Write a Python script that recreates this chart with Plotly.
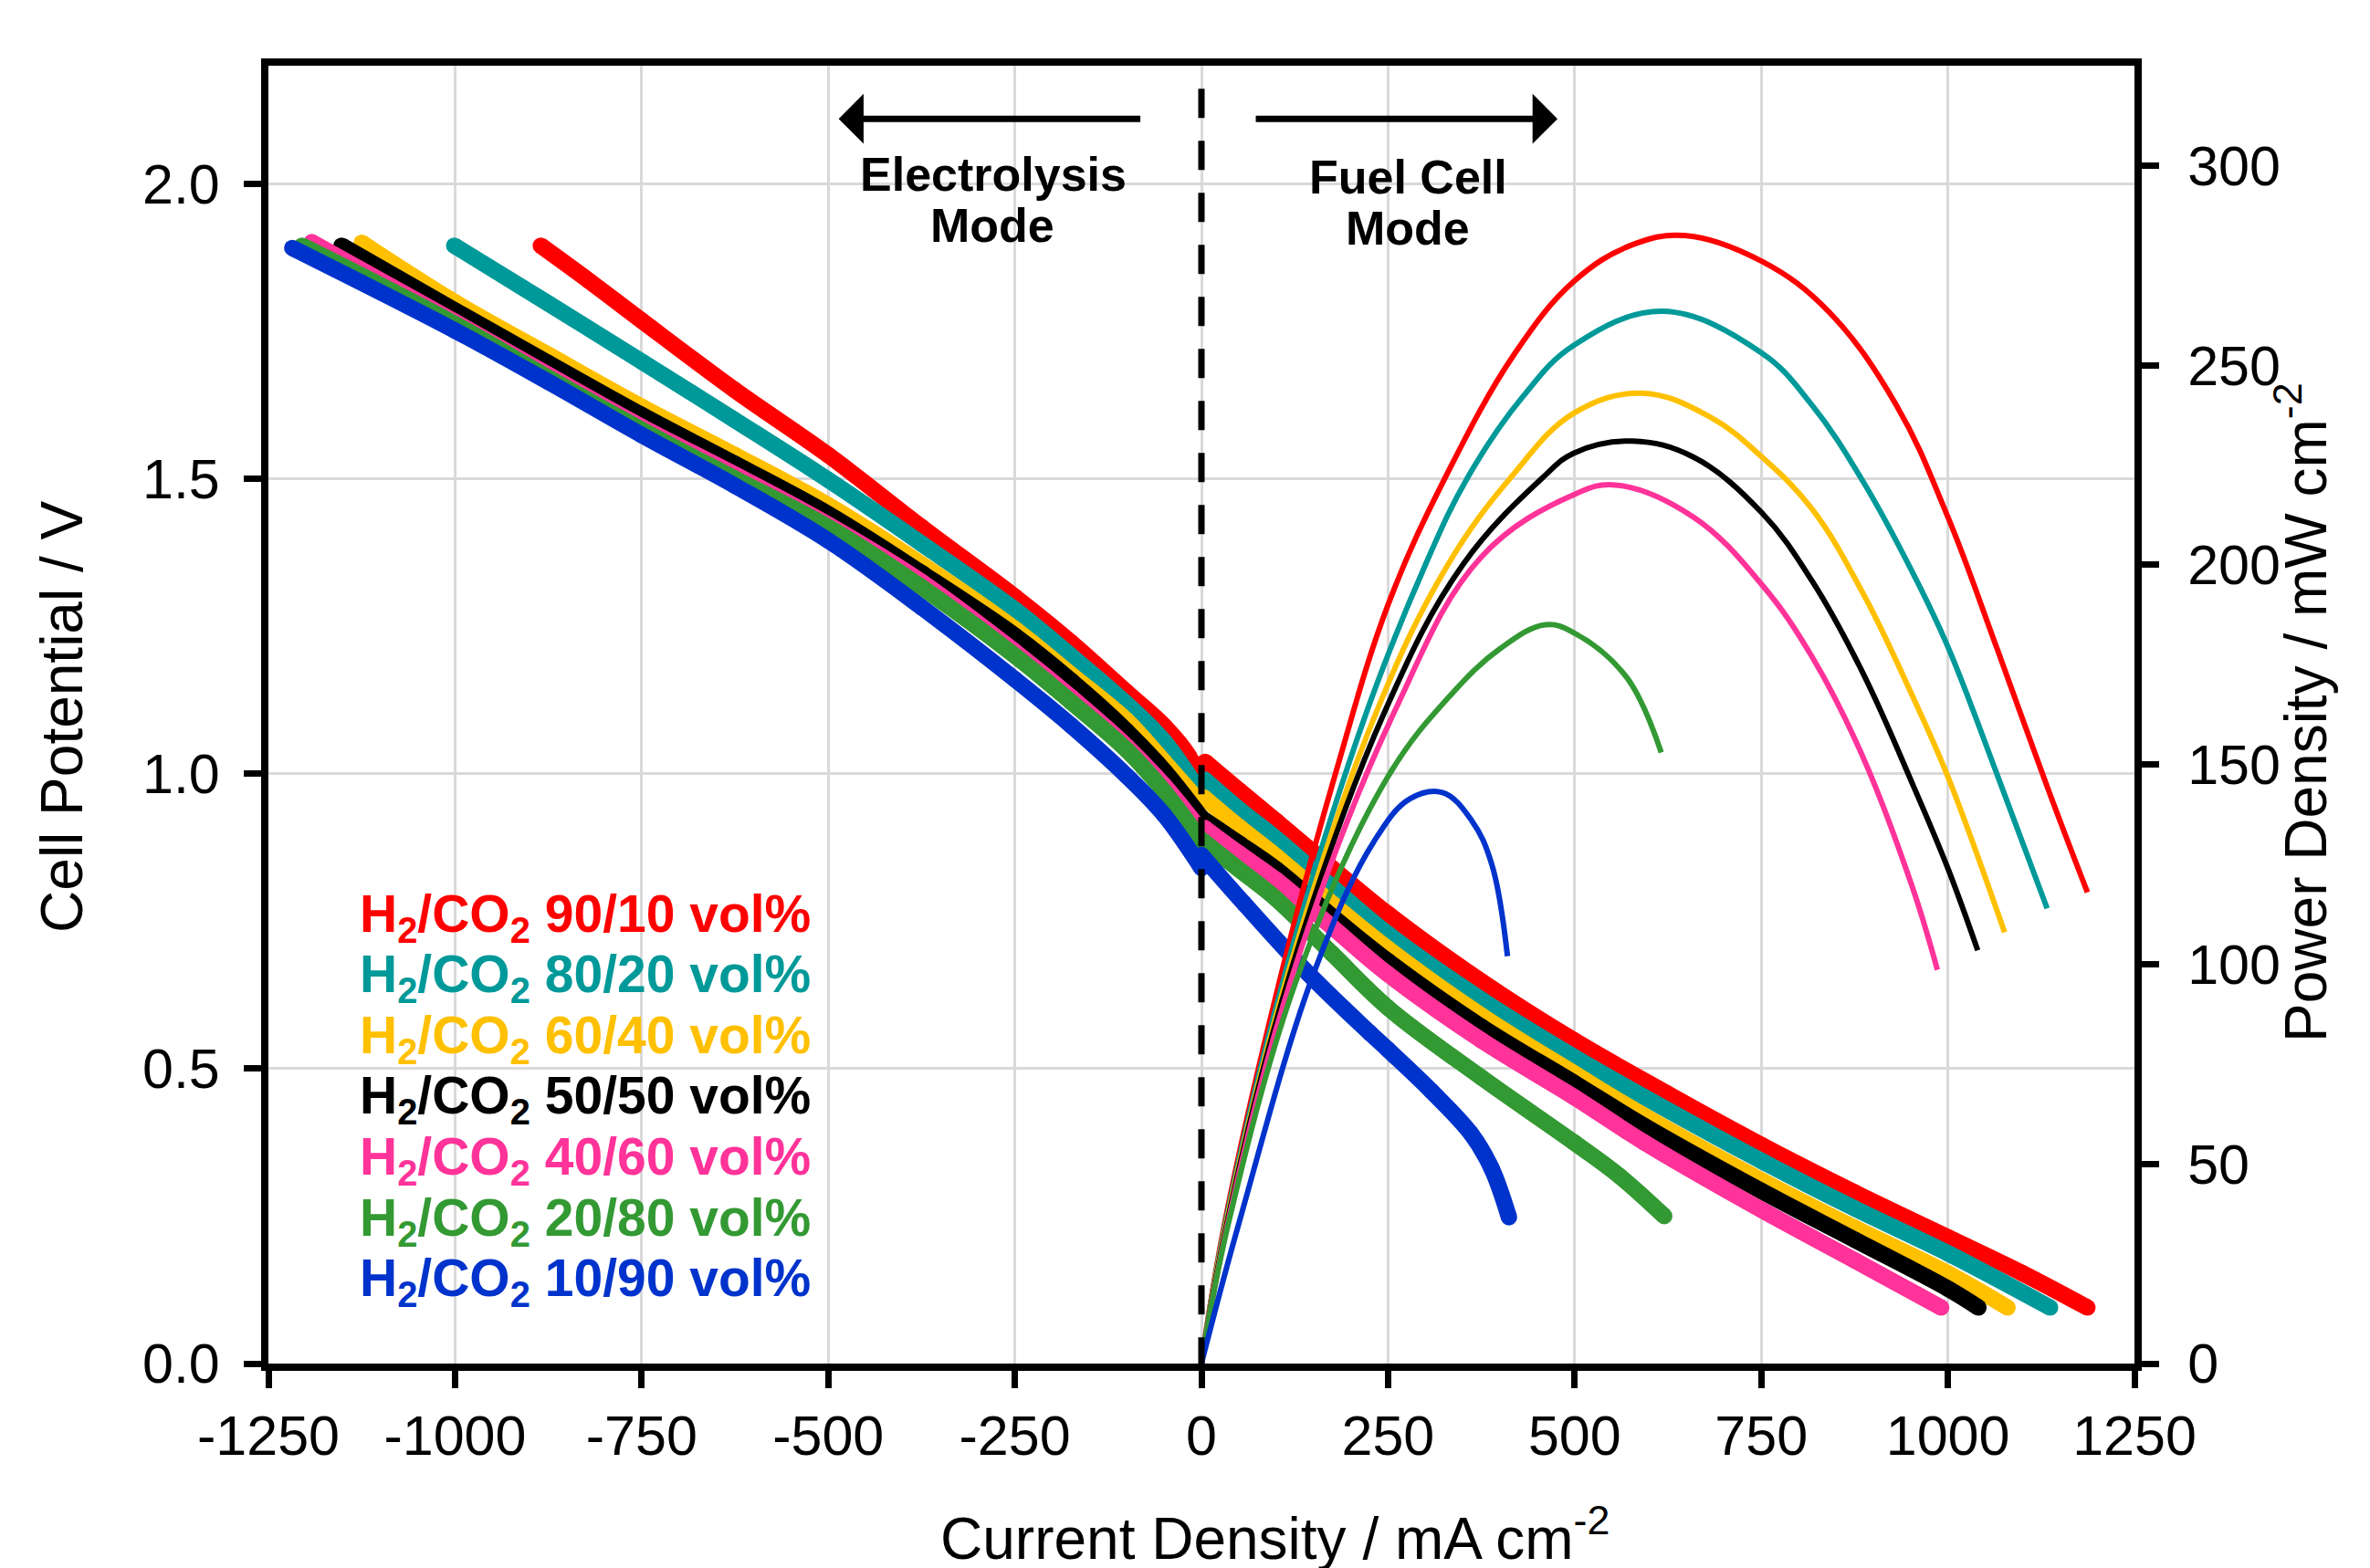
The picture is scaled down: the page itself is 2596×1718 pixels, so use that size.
import plotly.graph_objects as go

# ---------------- data ----------------
# current density in mA cm-2, cell potential in V, power density in mW cm-2
labels = ["90/10", "80/20", "60/40", "50/50", "40/60", "20/80", "10/90"]
colors = ["#FF0000", "#009999", "#FFC000", "#000000", "#FF3399", "#339933", "#0033CC"]

# electrolysis branch (negative current)
red_el_i = [-885, -820, -750, -626, -500, -375, -250, -175, -100, -50, -17, -3]
red_el_v = [1.895, 1.835, 1.768, 1.651, 1.54, 1.418, 1.30, 1.223, 1.138, 1.081, 1.03, 0.99]
teal_el_i = [-1001, -875, -748, -626, -500, -375, -250, -175, -100, -50, -3]
teal_el_v = [1.895, 1.797, 1.697, 1.60, 1.498, 1.39, 1.278, 1.20, 1.118, 1.055, 0.97]
yellow_el_i = [-1125, -1000, -875, -750, -625, -500, -375, -250, -175, -100, -50, -3]
yellow_el_v = [1.900, 1.799, 1.71, 1.622, 1.54, 1.455, 1.355, 1.245, 1.168, 1.09, 1.02, 0.953]
black_el_i = [-1152, -1000, -875, -750, -625, -500, -375, -250, -175, -100, -50, 0]
black_el_v = [1.895, 1.785, 1.696, 1.608, 1.525, 1.44, 1.34, 1.234, 1.158, 1.072, 1.005, 0.925]
pink_el_i = [-1192, -1000, -875, -750, -625, -500, -375, -250, -175, -100, -50, 0]
pink_el_v = [1.901, 1.766, 1.676, 1.588, 1.507, 1.422, 1.325, 1.207, 1.13, 1.046, 0.98, 0.902]
green_el_i = [-1205, -1000, -875, -750, -625, -500, -375, -250, -175, -100, -50, 0]
green_el_v = [1.895, 1.762, 1.671, 1.583, 1.50, 1.418, 1.316, 1.20, 1.122, 1.04, 0.97, 0.886]
blue_el_i = [-1218, -1000, -875, -750, -625, -500, -375, -250, -175, -100, -50, 0]
blue_el_v = [1.891, 1.751, 1.664, 1.574, 1.488, 1.395, 1.282, 1.16, 1.082, 0.996, 0.93, 0.84]

# fuel cell branch (positive current)
red_fc_i = [5, 50, 100, 175, 250, 375, 499, 625, 751, 875, 1000, 1100, 1187]
red_fc_v = [1.02, 0.972, 0.92, 0.84, 0.762, 0.648, 0.548, 0.457, 0.37, 0.29, 0.214, 0.153, 0.095]
teal_fc_i = [4, 50, 100, 175, 250, 375, 499, 593, 751, 875, 1000, 1137]
teal_fc_v = [0.99, 0.94, 0.89, 0.808, 0.728, 0.617, 0.52, 0.452, 0.343, 0.263, 0.187, 0.095]
yellow_fc_i = [3, 50, 100, 175, 250, 375, 499, 593, 751, 875, 1000, 1080]
yellow_fc_v = [0.96, 0.91, 0.86, 0.78, 0.703, 0.59, 0.492, 0.42, 0.31, 0.23, 0.153, 0.095]
black_fc_i = [0, 50, 100, 175, 250, 375, 499, 593, 751, 875, 1000, 1041]
black_fc_v = [0.925, 0.882, 0.838, 0.758, 0.682, 0.571, 0.476, 0.403, 0.292, 0.21, 0.127, 0.095]
pink_fc_i = [4, 50, 100, 175, 250, 375, 499, 593, 751, 875, 991]
pink_fc_v = [0.908, 0.865, 0.82, 0.74, 0.66, 0.548, 0.452, 0.375, 0.26, 0.175, 0.095]
green_fc_i = [2, 50, 100, 175, 250, 375, 499, 560, 620]
green_fc_v = [0.886, 0.838, 0.788, 0.695, 0.603, 0.485, 0.375, 0.318, 0.25]
blue_fc_i = [0, 57, 144, 226, 250, 308, 361, 389, 412]
blue_fc_v = [0.862, 0.78, 0.66, 0.56, 0.532, 0.462, 0.39, 0.33, 0.248]

# power density curves (right axis)
red_p_i = [0, 31, 109, 180, 250, 327, 420, 499, 575, 647, 751, 840, 931, 1000, 1066, 1134, 1187]
red_p = [0, 35, 99, 148, 190, 222, 253, 271, 280, 282.5, 276, 263.5, 240, 212, 179, 144, 118]
teal_p_i = [0, 32, 114, 221, 300, 357, 430, 499, 618, 751, 818, 886, 953, 1000, 1067, 1133]
teal_p = [0, 35, 99, 163, 200, 222, 242, 255, 263.5, 253, 240, 221, 198, 179.5, 147, 114]
yellow_p_i = [0, 33, 118, 234, 330, 415, 499, 590, 682, 751, 818, 886, 953, 1000, 1076]
yellow_p = [0, 35, 99, 163, 200, 222, 238, 243, 237, 227, 214, 193, 167, 147, 108]
black_p_i = [0, 34, 121, 245, 350, 458, 499, 577, 659, 751, 818, 886, 953, 1000, 1040]
black_p = [0, 35, 99, 163, 200, 222, 228, 231, 227, 213, 196, 173, 145, 124, 103.5]
pink_p_i = [0, 35, 125, 258, 375, 499, 555, 659, 751, 818, 886, 953, 986]
pink_p = [0, 35, 99, 163, 202, 217.6, 220, 212, 195, 177, 152, 119, 98.6]
green_p_i = [0, 36, 133, 250, 332, 400, 461, 499, 569, 616]
green_p = [0, 35, 99, 147, 167, 179, 185, 183, 172, 153]
blue_p_i = [0, 50, 153, 232, 280, 323, 362, 389, 410]
blue_p = [0, 35, 99, 131, 141.5, 143, 136, 125, 102]

x_ticks = [-1250, -1000, -750, -500, -250, 0, 250, 500, 750, 1000, 1250]
x_ticktext = ["-1250", "-1000", "-750", "-500", "-250", "0", "250", "500", "750", "1000", "1250"]
y_ticks = [0.0, 0.5, 1.0, 1.5, 2.0]
y2_ticks = [0, 50, 100, 150, 200, 250, 300]

# legend rows (cell potential at which each label sits)
legend_v = [0.757, 0.654, 0.551, 0.448, 0.345, 0.242, 0.139]

# ---------------------------------------------------------------
el = [(red_el_i, red_el_v), (teal_el_i, teal_el_v), (yellow_el_i, yellow_el_v),
      (black_el_i, black_el_v), (pink_el_i, pink_el_v), (green_el_i, green_el_v),
      (blue_el_i, blue_el_v)]
fc = [(red_fc_i, red_fc_v), (teal_fc_i, teal_fc_v), (yellow_fc_i, yellow_fc_v),
      (black_fc_i, black_fc_v), (pink_fc_i, pink_fc_v), (green_fc_i, green_fc_v),
      (blue_fc_i, blue_fc_v)]
pw = [(red_p_i, red_p), (teal_p_i, teal_p), (yellow_p_i, yellow_p),
      (black_p_i, black_p), (pink_p_i, pink_p), (green_p_i, green_p),
      (blue_p_i, blue_p)]

FONT = "Liberation Sans, Arial, sans-serif"
fig = go.Figure()

for k in range(7):
    c = colors[k]
    for xs, ys in (el[k], fc[k]):
        fig.add_trace(go.Scatter(
            x=xs, y=ys, mode="lines+markers",
            line=dict(color=c, width=18, shape="spline", smoothing=1.0),
            marker=dict(color=c, size=18, line=dict(width=0)),
            yaxis="y", hoverinfo="skip"))

for k in range(7):
    xs, ys = pw[k]
    fig.add_trace(go.Scatter(
        x=xs, y=ys, mode="lines",
        line=dict(color=colors[k], width=6, shape="spline", smoothing=1.1),
        yaxis="y2", hoverinfo="skip"))

def axis_common(standoff):
    return dict(
        showline=True, linecolor="black", linewidth=8,
        ticks="outside", ticklen=19, tickwidth=7, tickcolor="black",
        zeroline=False, tickfont=dict(family=FONT, size=61, color="black"),
        ticklabelstandoff=standoff,
    )

fig.update_layout(
    width=2596, height=1718,
    margin=dict(l=286, r=266, t=64, b=232),
    paper_bgcolor="white", plot_bgcolor="white",
    showlegend=False,
    font=dict(family=FONT, color="black"),
    xaxis=dict(range=[-1250, 1250], tickvals=x_ticks, ticktext=x_ticktext,
               showgrid=True, gridcolor="#d9d9d9", gridwidth=3, mirror=True,
               **axis_common(0)),
    yaxis=dict(range=[0, 2.2], tickvals=y_ticks, tickformat=".1f",
               showgrid=True, gridcolor="#d9d9d9", gridwidth=3,
               **axis_common(14)),
    yaxis2=dict(range=[0, 325], tickvals=y2_ticks, overlaying="y", side="right",
                showgrid=False, **axis_common(19)),
)

# dashed line at zero current
fig.add_shape(type="line", xref="x", yref="y", x0=0, x1=0, y0=2.161, y1=0,
              line=dict(color="black", width=7, dash="32px,25px"), layer="above")

ann = []
# axis titles
ann.append(dict(text="Current Density / mA cm<sup>-2</sup>", xref="paper", yref="paper",
                x=0.5396, y=-0.1315, xanchor="center", yanchor="middle", showarrow=False,
                font=dict(family=FONT, size=64, color="black")))
ann.append(dict(text="Cell Potential / V", xref="paper", yref="paper",
                x=-0.1106, y=0.4986, xanchor="center", yanchor="middle", showarrow=False,
                textangle=-90, font=dict(family=FONT, size=64, color="black")))
ann.append(dict(text="Power Density / mW cm<sup>-2</sup>", xref="paper", yref="paper",
                x=1.0895, y=0.5021, xanchor="center", yanchor="middle", showarrow=False,
                textangle=-90, font=dict(family=FONT, size=64, color="black")))

# mode labels
for txt, xx, yy in [("Electrolysis", -279, 2.016), ("Mode", -280, 1.929),
                    ("Fuel Cell", 277, 2.011), ("Mode", 277, 1.925)]:
    ann.append(dict(text="<b>" + txt + "</b>", x=xx, y=yy, xref="x", yref="y",
                    xanchor="center", yanchor="middle", showarrow=False,
                    font=dict(family=FONT, size=52, color="black")))

# mode arrows
for tip, tail in [(-486, -80), (477, 71)]:
    ann.append(dict(text="", x=tip, y=2.11, ax=tail, ay=2.11, xref="x", yref="y",
                    axref="x", ayref="y", showarrow=True, arrowhead=1, arrowsize=1.3,
                    arrowwidth=7, arrowcolor="black"))

# legend text
for k in range(7):
    txt = "<b>H<sub>2</sub>/CO<sub>2</sub> " + labels[k] + " vol%</b>"
    ann.append(dict(text=txt, x=-1130, y=legend_v[k], xref="x", yref="y",
                    xanchor="left", yanchor="middle", showarrow=False,
                    font=dict(family=FONT, size=57, color=colors[k])))

fig.update_layout(annotations=ann)
fig.write_html("out.html")
